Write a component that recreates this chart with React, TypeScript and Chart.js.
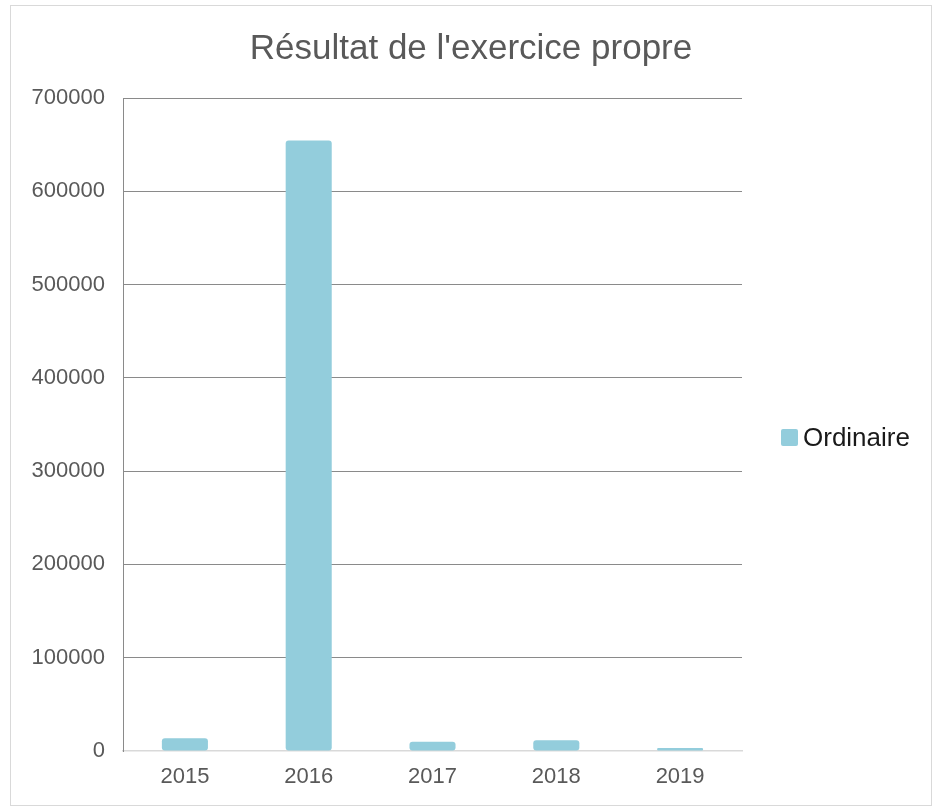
import React, { useEffect, useRef } from "react";
import { Chart, registerables } from "chart.js";

Chart.register(...registerables);

const TITLE = "Résultat de l'exercice propre";
const CATEGORIES = ["2015", "2016", "2017", "2018", "2019"];
const SERIES_LABEL = "Ordinaire";
const SERIES_VALUES = [13600, 654500, 10000, 11500, 3200];
const Y_MIN = 0;
const Y_MAX = 700000;
const Y_STEP = 100000;

const BAR_COLOR = "#93CDDC";
const TEXT_COLOR = "#595959";
const FONT = "'Liberation Sans', Arial, sans-serif";

const legendPlugin = {
  id: "customLegend",
  afterDraw(chart: any) {
    const ctx = chart.ctx;
    const ds = chart.data.datasets[0];
    const x = 770;
    const y = 423;
    const s = 17;
    ctx.save();
    ctx.fillStyle = ds.backgroundColor;
    ctx.beginPath();
    if (ctx.roundRect) ctx.roundRect(x, y, s, s, 2);
    else ctx.rect(x, y, s, s);
    ctx.fill();
    ctx.fillStyle = "#1a1a1a";
    ctx.font = `26px ${FONT}`;
    ctx.textBaseline = "middle";
    ctx.textAlign = "left";
    ctx.fillText(ds.label, x + 22, y + s / 2 + 1);
    ctx.restore();
  },
};

export default function App() {
  const ref = useRef<HTMLCanvasElement | null>(null);

  useEffect(() => {
    if (!ref.current) return;
    const chart = new Chart(ref.current, {
      type: "bar",
      data: {
        labels: CATEGORIES,
        datasets: [
          {
            label: SERIES_LABEL,
            data: SERIES_VALUES,
            backgroundColor: BAR_COLOR,
            borderRadius: 3,
            borderSkipped: false,
            categoryPercentage: 1,
            barPercentage: 0.372,
          },
        ],
      },
      options: {
        animation: false,
        responsive: true,
        maintainAspectRatio: false,
        layout: { padding: 0 },
        plugins: {
          legend: { display: false },
          tooltip: { enabled: false },
          title: {
            display: true,
            text: TITLE,
            color: TEXT_COLOR,
            font: { family: FONT, size: 35, weight: "normal" },
            padding: { top: 22, bottom: 28 },
          },
        },
        scales: {
          x: {
            z: 1,
            grid: { display: false, drawTicks: false },
            border: { display: true, color: "#d9d9d9", width: 1.5 },
            ticks: {
              color: TEXT_COLOR,
              font: { family: FONT, size: 22 },
              padding: 13,
              maxRotation: 0,
            },
            afterFit(scale: any) {
              scale.height = 54;
            },
          },
          y: {
            min: Y_MIN,
            max: Y_MAX,
            ticks: {
              stepSize: Y_STEP,
              color: TEXT_COLOR,
              font: { family: FONT, size: 22 },
              padding: 18,
              callback: (v: any) => String(v),
            },
            grid: {
              color: (c: any) => (c.tick && c.tick.value === 0 ? "rgba(0,0,0,0)" : "#8a8a8a"),
              drawTicks: false,
              lineWidth: 1,
            },
            border: { display: true, color: "#8a8a8a", width: 1 },
            afterFit(scale: any) {
              scale.width = 112;
            },
          },
          legendSpace: {
            type: "linear",
            position: "right",
            display: true,
            min: Y_MIN,
            max: Y_MAX,
            grid: { display: false, drawTicks: false },
            border: { display: false },
            ticks: { display: false },
            afterFit(scale: any) {
              scale.width = 189;
            },
          },
        },
      },
      plugins: [legendPlugin],
    });
    return () => chart.destroy();
  }, []);

  return (
    <div
      style={{
        position: "absolute",
        left: 10,
        top: 5,
        width: 922,
        height: 801,
        border: "1px solid #d9d9d9",
        boxSizing: "border-box",
        background: "#fff",
      }}
    >
      <div style={{ position: "relative", width: 920, height: 799 }}>
        <canvas ref={ref} />
      </div>
    </div>
  );
}
